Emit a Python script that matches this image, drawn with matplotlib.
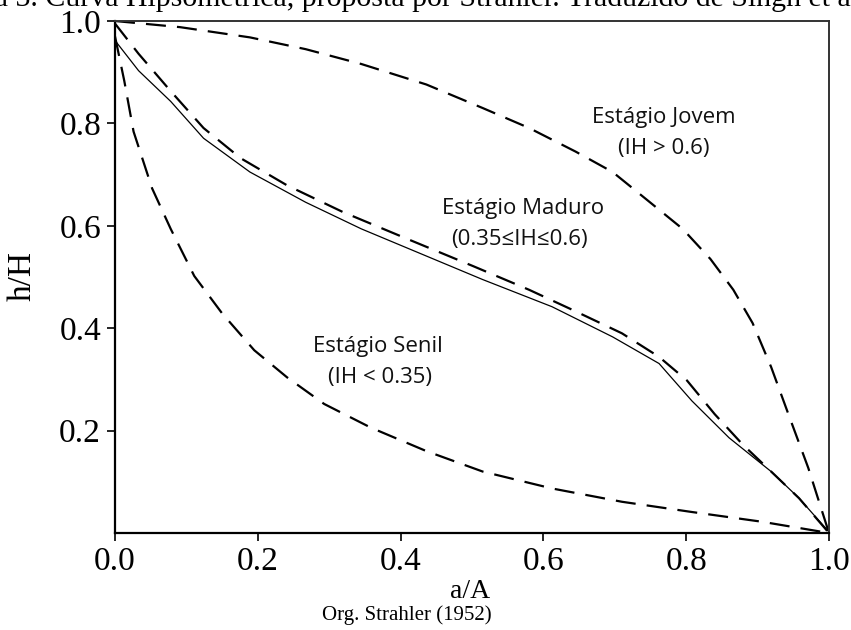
import matplotlib
matplotlib.use("Agg")
import matplotlib.pyplot as plt

# Young stage (dashed, upper)
young_x = [0.0, 0.091, 0.189, 0.267, 0.345, 0.436, 0.515, 0.580, 0.645, 0.697, 0.743,
           0.795, 0.834, 0.866, 0.893, 0.919, 0.945, 0.971, 1.0]
young_y = [1.0, 0.988, 0.968, 0.945, 0.916, 0.876, 0.830, 0.791, 0.745, 0.705, 0.653,
           0.594, 0.535, 0.475, 0.410, 0.324, 0.225, 0.127, 0.0]

# Mature stage (dashed, middle)
mature_x = [0.0, 0.033, 0.078, 0.124, 0.176, 0.241, 0.319, 0.410, 0.502, 0.580, 0.645,
            0.710, 0.762, 0.801, 0.840, 0.879, 0.919, 0.958, 1.0]
mature_y = [0.995, 0.936, 0.863, 0.791, 0.732, 0.679, 0.627, 0.574, 0.521, 0.475, 0.433,
            0.390, 0.344, 0.298, 0.232, 0.173, 0.120, 0.068, 0.0]

# Mature stage (solid, thin)
solid_x = [0.0, 0.033, 0.078, 0.124, 0.189, 0.267, 0.345, 0.436, 0.515, 0.612, 0.697,
           0.762, 0.808, 0.860, 0.919, 0.958, 1.0]
solid_y = [0.962, 0.903, 0.843, 0.771, 0.705, 0.646, 0.594, 0.541, 0.495, 0.442, 0.383,
           0.331, 0.258, 0.186, 0.120, 0.068, 0.002]

# Senile stage (dashed, lower)
senile_x = [0.0, 0.013, 0.026, 0.052, 0.078, 0.111, 0.150, 0.195, 0.241, 0.293, 0.358,
            0.436, 0.515, 0.612, 0.710, 0.808, 0.906, 1.0]
senile_y = [0.97, 0.883, 0.784, 0.673, 0.594, 0.502, 0.429, 0.357, 0.304, 0.252, 0.206,
            0.160, 0.120, 0.087, 0.061, 0.041, 0.022, 0.0]

x_ticks = [0.0, 0.2, 0.4, 0.6, 0.8, 1.0]
x_tick_labels = ["0.0", "0.2", "0.4", "0.6", "0.8", "1.0"]
y_ticks = [0.2, 0.4, 0.6, 0.8, 1.0]
y_tick_labels = ["0.2", "0.4", "0.6", "0.8", "1.0"]

labels = [
    ("Estágio Jovem", 0.769, 0.811),
    ("(IH > 0.6)", 0.769, 0.751),
    ("Estágio Maduro", 0.572, 0.633),
    ("(0.35≤IH≤0.6)", 0.567, 0.574),
    ("Estágio Senil", 0.368, 0.364),
    ("(IH < 0.35)", 0.371, 0.304),
]

serif = ["Liberation Serif", "DejaVu Serif"]
sans = ["Open Sans", "DejaVu Sans"]

fig = plt.figure(figsize=(8.51, 6.30), dpi=100)
ax = fig.add_axes([115 / 851, 1 - 533 / 630, 714 / 851, 512 / 630])

dash = (0, (9, 5))
ax.plot(young_x, young_y, color="black", lw=1.6, linestyle=dash)
ax.plot(mature_x, mature_y, color="black", lw=1.6, linestyle=dash)
ax.plot(solid_x, solid_y, color="black", lw=0.9)
ax.plot(senile_x, senile_y, color="black", lw=1.6, linestyle=dash)

ax.set_xlim(0, 1)
ax.set_ylim(0, 1)
ax.set_xticks(x_ticks)
ax.set_xticklabels(x_tick_labels, family=serif, fontsize=24)
ax.set_yticks(y_ticks)
ax.set_yticklabels(y_tick_labels, family=serif, fontsize=24)
ax.tick_params(axis="both", direction="out", length=6, width=1.2, color="black")
ax.tick_params(axis="x", pad=4)
ax.tick_params(axis="y", pad=4)

for side in ["left", "bottom"]:
    ax.spines[side].set_linewidth(1.6)
    ax.spines[side].set_color("black")
for side in ["top", "right"]:
    ax.spines[side].set_linewidth(1.4)
    ax.spines[side].set_color("#333333")

for txt, x, y in labels:
    ax.text(x, y, txt, ha="center", va="center", fontsize=16, family=sans, color="#111111")

fig.text(22 / 851, 1 - 276 / 630, "h/H", rotation=90, ha="center", va="center",
         fontsize=24, family=serif)
fig.text(470 / 851, 1 - 592 / 630, "a/A", ha="center", va="center",
         fontsize=20, family=serif)
fig.text(407 / 851, 1 - 615 / 630, "Org. Strahler (1952)", ha="center", va="center",
         fontsize=15, family=serif)
fig.text(-70 / 851, 1 - 6 / 630,
         "Figura 3. Curva Hipsométrica, proposta por Strahler. Traduzido de Singh et al.",
         ha="left", va="baseline", fontsize=21.5, family=serif)

fig.savefig("out.png", dpi=100)
